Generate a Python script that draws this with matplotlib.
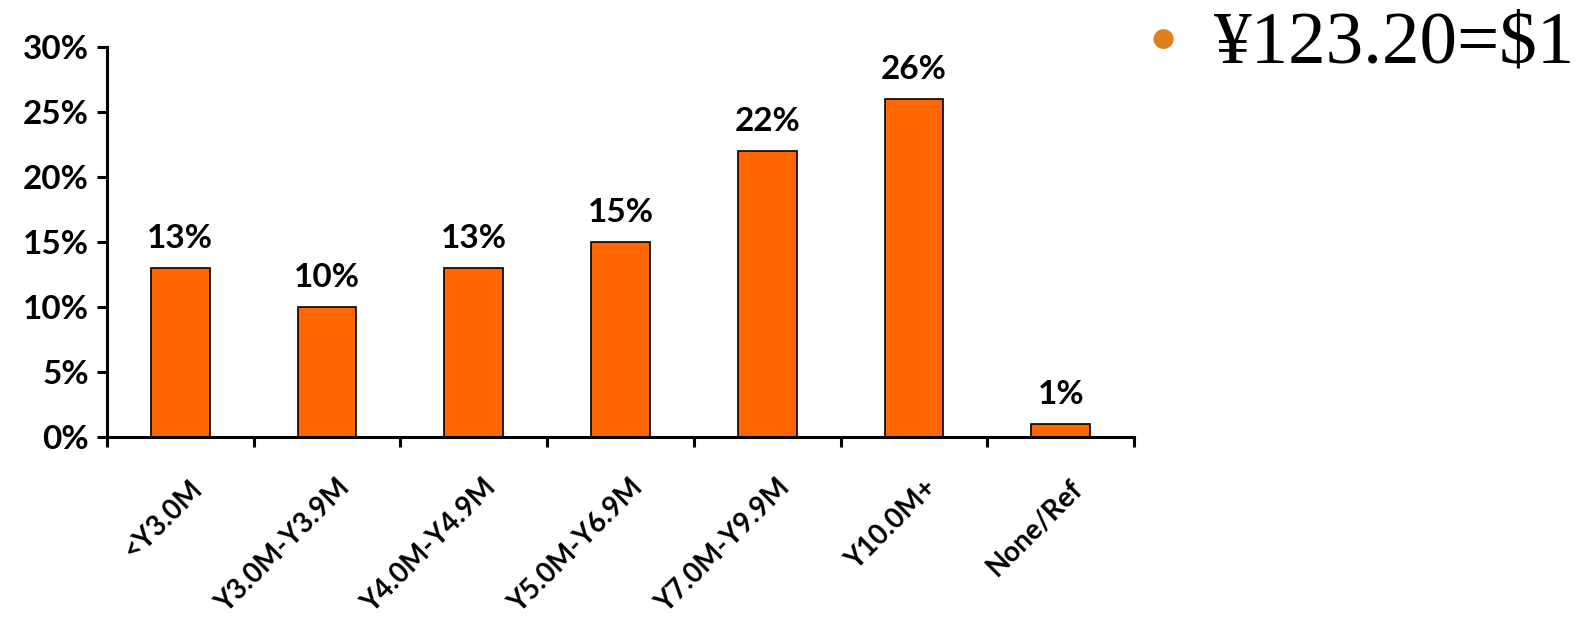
import numpy as np
import matplotlib.pyplot as plt

categories = ['<Y3.0M', 'Y3.0M-Y3.9M', 'Y4.0M-Y4.9M', 'Y5.0M-Y6.9M',
              'Y7.0M-Y9.9M', 'Y10.0M+', 'None/Ref']
shares = [13, 10, 13, 15, 22, 26, 1]
yticks = [0, 5, 10, 15, 20, 25, 30]
note = '\u00a5123.20=$1'

plt.rcParams['font.family'] = ['Lato', 'DejaVu Sans']

fig = plt.figure(figsize=(15.85, 6.2), dpi=100)
ax = fig.add_axes([0.0675, 0.2952, 0.648, 0.629])

x = np.arange(len(categories))
ax.bar(x, shares, width=0.4, color='#FF6600', edgecolor='black', linewidth=1.2)

for xi, v in zip(x, shares):
    ax.annotate(f'{v}%', (xi, v), xytext=(0, 11), textcoords='offset points',
                ha='center', va='bottom', fontsize=24, fontweight='bold')

ax.set_xlim(-0.5, len(categories) - 0.5)
ax.set_ylim(0, 30)
ax.set_yticks(yticks)
ax.set_yticklabels([f'{t}%' for t in yticks], fontsize=24, fontweight='bold')

ax.set_xticks(x + 0.06)
ax.set_xticklabels(categories, rotation=45, ha='right', rotation_mode='anchor',
                   fontsize=20, fontweight='bold')
ax.set_xticks(np.arange(len(categories) + 1) - 0.5, minor=True)
ax.tick_params(axis='x', which='major', length=0, pad=27)
ax.tick_params(axis='x', which='minor', length=7, width=2.2, direction='out')
ax.tick_params(axis='y', length=7, width=2.2, direction='out', pad=6)

for s in ['top', 'right']:
    ax.spines[s].set_visible(False)
for s in ['left', 'bottom']:
    ax.spines[s].set_linewidth(2.2)

fig.text(0.7337, 0.937, '\u25cf', color='#E07F1F', fontsize=19,
         ha='center', va='center', family='DejaVu Sans')
fig.text(0.766, 0.90, note, fontsize=54, family='Liberation Serif',
         ha='left', va='baseline')

fig.savefig('out.png', dpi=100)
